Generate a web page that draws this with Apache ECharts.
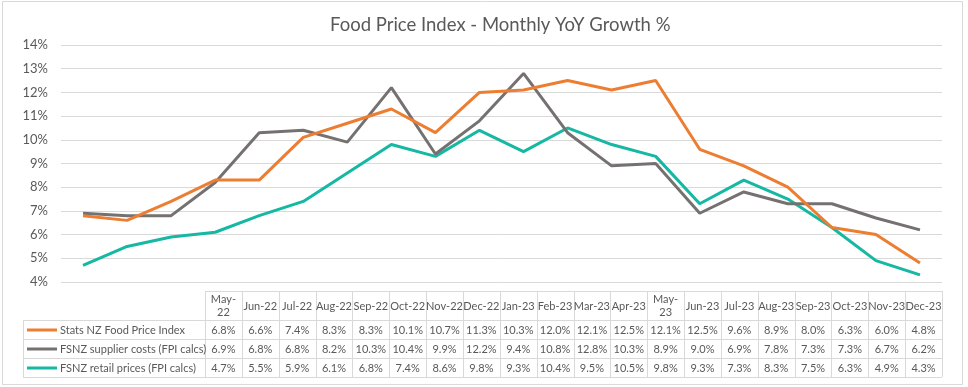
<!DOCTYPE html>
<html>
<head>
<meta charset="utf-8">
<script src="https://cdn.jsdelivr.net/npm/echarts@6/dist/echarts.min.js"></script>
<style>
html,body{margin:0;padding:0;background:#fff;}
#chart{width:968px;height:387px;}
</style>
</head>
<body>
<div id="chart"></div>
<script>
const months = ['May-22','Jun-22','Jul-22','Aug-22','Sep-22','Oct-22','Nov-22','Dec-22','Jan-23','Feb-23','Mar-23','Apr-23','May-23','Jun-23','Jul-23','Aug-23','Sep-23','Oct-23','Nov-23','Dec-23'];
const statsNZ  = [6.8, 6.6, 7.4, 8.3, 8.3, 10.1, 10.7, 11.3, 10.3, 12.0, 12.1, 12.5, 12.1, 12.5, 9.6, 8.9, 8.0, 6.3, 6.0, 4.8];
const supplier = [6.9, 6.8, 6.8, 8.2, 10.3, 10.4, 9.9, 12.2, 9.4, 10.8, 12.8, 10.3, 8.9, 9.0, 6.9, 7.8, 7.3, 7.3, 6.7, 6.2];
const retail   = [4.7, 5.5, 5.9, 6.1, 6.8, 7.4, 8.6, 9.8, 9.3, 10.4, 9.5, 10.5, 9.8, 9.3, 7.3, 8.3, 7.5, 6.3, 4.9, 4.3];
const seriesNames = ['Stats NZ Food Price Index', 'FSNZ supplier costs (FPI calcs)', 'FSNZ retail prices (FPI calcs)'];
const seriesColors = ['#ED7D31', '#767171', '#14B8A3'];
const yMin = 4, yMax = 14, yStep = 1;
const titleText = 'Food Price Index - Monthly YoY Growth %';

const allSeries = [statsNZ, supplier, retail];
const FONT = 'Lato, "Open Sans", sans-serif';
const TXT = '#595959';
const LINE = '#D9D9D9';

// data table geometry
const tLabelX = 23, tDataX = 205, tRight = 942;
const colW = (tRight - tDataX) / months.length;
const hTop = 291;
const rowY = [320, 339, 358, 377];

const g = [];
g.push({type:'rect', shape:{x:2.5, y:1.5, width:960, height:383}, style:{fill:null, stroke:LINE, lineWidth:1}, silent:true});
// horizontal lines
g.push({type:'line', shape:{x1:tDataX, y1:hTop+0.5, x2:tRight, y2:hTop+0.5}, style:{stroke:LINE, lineWidth:1}});
rowY.forEach(y => g.push({type:'line', shape:{x1:tLabelX, y1:y+0.5, x2:tRight, y2:y+0.5}, style:{stroke:LINE, lineWidth:1}}));
// vertical lines
g.push({type:'line', shape:{x1:tLabelX+0.5, y1:rowY[0], x2:tLabelX+0.5, y2:rowY[3]}, style:{stroke:LINE, lineWidth:1}});
for (let i = 0; i <= months.length; i++) {
  const x = Math.round(tDataX + i*colW) + 0.5;
  g.push({type:'line', shape:{x1:x, y1:hTop, x2:x, y2:rowY[3]}, style:{stroke:LINE, lineWidth:1}});
}
// header
months.forEach((m, i) => {
  const label = m.startsWith('May') ? m.replace('-', '-\n') : m;
  g.push({type:'text', x: tDataX + (i+0.5)*colW, y:(hTop+rowY[0])/2+0.5,
    style:{text:label, fill:TXT, font:'11px ' + FONT, align:'center', verticalAlign:'middle', lineHeight:13}});
});
// rows
allSeries.forEach((arr, r) => {
  const cy = (rowY[r] + rowY[r+1]) / 2 + 0.5;
  g.push({type:'line', shape:{x1:27, y1:cy, x2:57, y2:cy}, style:{stroke:seriesColors[r], lineWidth:3}});
  g.push({type:'text', x:60, y:cy, style:{text:seriesNames[r], fill:TXT, font:'11px ' + FONT, align:'left', verticalAlign:'middle'}});
  arr.forEach((v, i) => {
    g.push({type:'text', x: tDataX + (i+0.5)*colW, y:cy,
      style:{text:v.toFixed(1) + '%', fill:TXT, font:'11px ' + FONT, align:'center', verticalAlign:'middle'}});
  });
});

const chart = echarts.init(document.getElementById('chart'), null, {renderer:'canvas'});
chart.setOption({
  animation:false,
  backgroundColor:'#fff',
  title:{text:titleText, left:325, top:11, textStyle:{color:TXT, fontFamily:FONT, fontSize:18.5, fontWeight:'normal'}},
  grid:{left:61, right:26, top:45, bottom:105, containLabel:false},
  xAxis:{type:'category', data:months, boundaryGap:true, axisLine:{show:false}, axisTick:{show:false}, axisLabel:{show:false}, splitLine:{show:false}},
  yAxis:{type:'value', min:yMin, max:yMax, interval:yStep,
    axisLine:{show:false}, axisTick:{show:false},
    axisLabel:{formatter:'{value}%', color:TXT, fontFamily:FONT, fontSize:13, margin:13},
    splitLine:{lineStyle:{color:LINE, width:1}}},
  series: allSeries.map((arr, r) => ({
    name:seriesNames[r], type:'line', data:arr, showSymbol:false, symbol:'none',
    lineStyle:{color:seriesColors[r], width:3}, itemStyle:{color:seriesColors[r]}, z: 3 - r
  })),
  graphic: g
});
</script>
</body>
</html>
